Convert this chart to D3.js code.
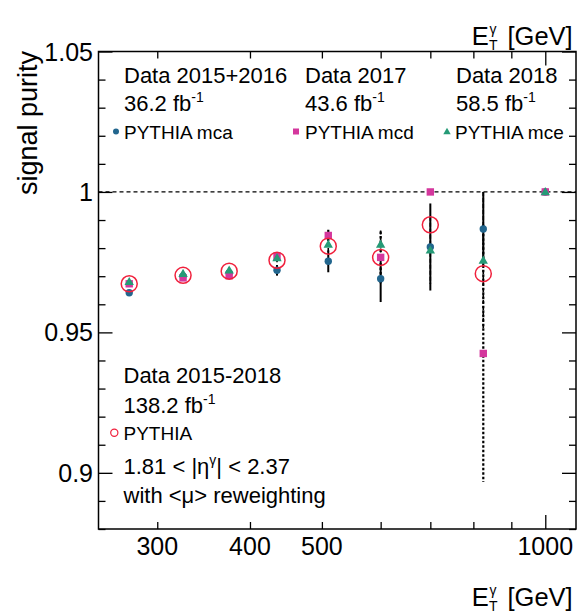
<!DOCTYPE html>
<html>
<head>
<meta charset="utf-8">
<script src="https://cdn.jsdelivr.net/npm/d3@7"></script>
<style>
body { margin: 0; background: #fff; }
text { font-family: "Liberation Sans", Arial, Helvetica, sans-serif; fill: #000; }
</style>
</head>
<body>
<svg class="chart" width="578" height="614"></svg>
<script>
// bin centres in GeV
var binCenters = [275, 325, 375, 435, 510, 600, 700, 825, 1000];

// purity per period
var mca    = [0.9641, 0.9700, 0.9712, 0.9721, 0.9753, 0.9691, 0.9804, 0.9868, 1.0];
var mcaErr = [0.0010, 0.0010, 0.0010, 0.0019, 0.0039, 0.0083, 0.0155, 0.0132, 0];
var mcd    = [0.9673, 0.9694, 0.9702, 0.9771, 0.9845, 0.9767, 1.0, 0.9425, 1.0];
var mcdErr = [0.0010, 0.0010, 0.0014, 0.0012, 0.0020, 0.0092, 0, 0.0458, 0];
var mce    = [0.9680, 0.9709, 0.9721, 0.9765, 0.9813, 0.9813, 0.9792, 0.9756, 1.0];
var mceErr = [0.0010, 0.0010, 0.0010, 0.0020, 0.0030, 0.0050, 0.0120, 0.0244, 0];
// combined PYTHIA, no point shown in the last bin
var pythia = [0.9673, 0.9703, 0.9718, 0.9757, 0.9807, 0.9767, 0.9883, 0.9709, null];

var xMinor = [300, 400, 500, 600, 700, 800, 900];
var xMajor = [1000];
var xLabels = [300, 400, 500, 1000];
var yMajor = [0.9, 0.95, 1.0, 1.05];
var yMinor = [0.88, 0.89, 0.91, 0.92, 0.93, 0.94, 0.96, 0.97, 0.98, 0.99, 1.01, 1.02, 1.03, 1.04];

var blue = "#22668e", pink = "#d4379d", green = "#259a76", red = "#f0203c";

var L = 98.5, R = 576, T = 51.5, B = 529;
var x = d3.scaleLog().domain([250, 1100]).range([L, R]);
var y = d3.scaleLinear().domain([0.88, 1.05]).range([B, T]);

var svg = d3.select(".chart");

// ticks (ROOT style, pointing inwards, on all four sides)
function xticks(vals, len) {
  svg.append("g").attr("transform", "translate(0," + B + ")")
    .call(d3.axisBottom(x).tickValues(vals).tickSize(-len).tickFormat(""))
    .call(g => g.select(".domain").remove());
  svg.append("g").attr("transform", "translate(0," + T + ")")
    .call(d3.axisTop(x).tickValues(vals).tickSize(-len).tickFormat(""))
    .call(g => g.select(".domain").remove());
}
function yticks(vals, len) {
  svg.append("g").attr("transform", "translate(" + L + ",0)")
    .call(d3.axisLeft(y).tickValues(vals).tickSize(-len).tickFormat(""))
    .call(g => g.select(".domain").remove());
  svg.append("g").attr("transform", "translate(" + R + ",0)")
    .call(d3.axisRight(y).tickValues(vals).tickSize(-len).tickFormat(""))
    .call(g => g.select(".domain").remove());
}
xticks(xMinor, 7);
xticks(xMajor, 14);
yticks(yMinor, 7);
yticks(yMajor, 14);
svg.selectAll(".tick line").attr("stroke", "#000").attr("stroke-width", 1.3);

// tick labels
svg.append("g").selectAll("text").data(xLabels).join("text")
  .attr("x", d => x(d)).attr("y", 554.5)
  .attr("text-anchor", "middle").attr("font-size", "25px")
  .text(d => d);
svg.append("g").selectAll("text").data(yMajor).join("text")
  .attr("x", 93).attr("y", d => y(d)).attr("dy", "0.36em")
  .attr("text-anchor", "end").attr("font-size", "25px")
  .text(d => d3.format("")(d));

// frame
svg.append("rect").attr("x", L).attr("y", T).attr("width", R - L).attr("height", B - T)
  .attr("fill", "none").attr("stroke", "#000").attr("stroke-width", 1.5);

// reference line at 1
svg.append("line").attr("x1", L).attr("x2", R).attr("y1", y(1)).attr("y2", y(1))
  .attr("stroke", "#000").attr("stroke-width", 1.2).attr("stroke-dasharray", "4,3");

// error bars
function errs(vals, errv, dash, w) {
  svg.append("g").selectAll("line").data(binCenters).join("line")
    .attr("x1", d => x(d)).attr("x2", d => x(d))
    .attr("y1", (d, i) => y(vals[i] + errv[i])).attr("y2", (d, i) => y(vals[i] - errv[i]))
    .attr("stroke", "#000").attr("stroke-width", w)
    .attr("stroke-dasharray", dash);
}
errs(mcd, mcdErr, "2.5,2", 2.2);
errs(mce, mceErr, "4,2", 1.6);
errs(mca, mcaErr, null, 2);

// markers
svg.append("g").selectAll("circle").data(binCenters).join("circle")
  .attr("cx", d => x(d)).attr("cy", (d, i) => y(mca[i])).attr("r", 3.7).attr("fill", blue);
svg.append("g").selectAll("rect").data(binCenters).join("rect")
  .attr("x", d => x(d) - 3.7).attr("y", (d, i) => y(mcd[i]) - 3.7)
  .attr("width", 7.4).attr("height", 7.4).attr("fill", pink);
var tri = d3.symbol().type(d3.symbolTriangle).size(38);
svg.append("g").selectAll("path").data(binCenters).join("path")
  .attr("transform", (d, i) => "translate(" + x(d) + "," + (y(mce[i]) + 0.5) + ")")
  .attr("d", tri).attr("fill", green);
svg.append("g").selectAll("circle")
  .data(binCenters.map((d, i) => [d, pythia[i]]).filter(p => p[1] != null)).join("circle")
  .attr("cx", p => x(p[0])).attr("cy", p => y(p[1])).attr("r", 8)
  .attr("fill", "none").attr("stroke", red).attr("stroke-width", 1.5);

// text helpers
function txt(xp, yp, s, size) {
  return svg.append("text").attr("x", xp).attr("y", yp).attr("font-size", size + "px").text(s);
}
function lumi(xp, yp, s) {
  var t = txt(xp, yp, s + " fb", 22);
  t.append("tspan").attr("dy", -9).attr("font-size", "14px").text("-1");
}
function etTitle(yb) {
  txt(471.7, yb, "E", 25.5);
  txt(489, yb + 5, "T", 14);
  txt(489.5, yb - 11, "\u03b3", 14);
  txt(507.5, yb, "[GeV]", 25.5);
}

// axis titles
etTitle(605.5);
etTitle(45);
svg.append("text").attr("transform", "translate(37,51) rotate(-90)")
  .attr("text-anchor", "end").attr("font-size", "27px").text("signal purity");

// legend, top
txt(124, 82.5, "Data 2015+2016", 22);
txt(305, 82.5, "Data 2017", 22);
txt(456, 82.5, "Data 2018", 22);
lumi(124, 111, "36.2");
lumi(305, 111, "43.6");
lumi(456, 111, "58.5");
svg.append("circle").attr("cx", 116).attr("cy", 131.5).attr("r", 3).attr("fill", blue);
txt(124, 139, "PYTHIA mca", 19);
svg.append("rect").attr("x", 293).attr("y", 128.5).attr("width", 6).attr("height", 6).attr("fill", pink);
txt(305, 139, "PYTHIA mcd", 19);
svg.append("path").attr("transform", "translate(447,132)")
  .attr("d", d3.symbol().type(d3.symbolTriangle).size(24)).attr("fill", green);
txt(455, 139, "PYTHIA mce", 19);

// legend, bottom
txt(123.5, 383.3, "Data 2015-2018", 22);
lumi(123.5, 413.3, "138.2");
svg.append("circle").attr("cx", 114.3).attr("cy", 432.7).attr("r", 3.6)
  .attr("fill", "none").attr("stroke", red).attr("stroke-width", 1.2);
txt(123.5, 440, "PYTHIA", 19);
var eta = txt(123.5, 474.3, "1.81 < |\u03b7", 22);
eta.append("tspan").attr("dy", -9).attr("font-size", "14px").text("\u03b3");
eta.append("tspan").attr("dy", 9).attr("font-size", "22px").text("| < 2.37");
txt(123.5, 503.3, "with <\u03bc> reweighting", 22);
</script>
</body>
</html>
